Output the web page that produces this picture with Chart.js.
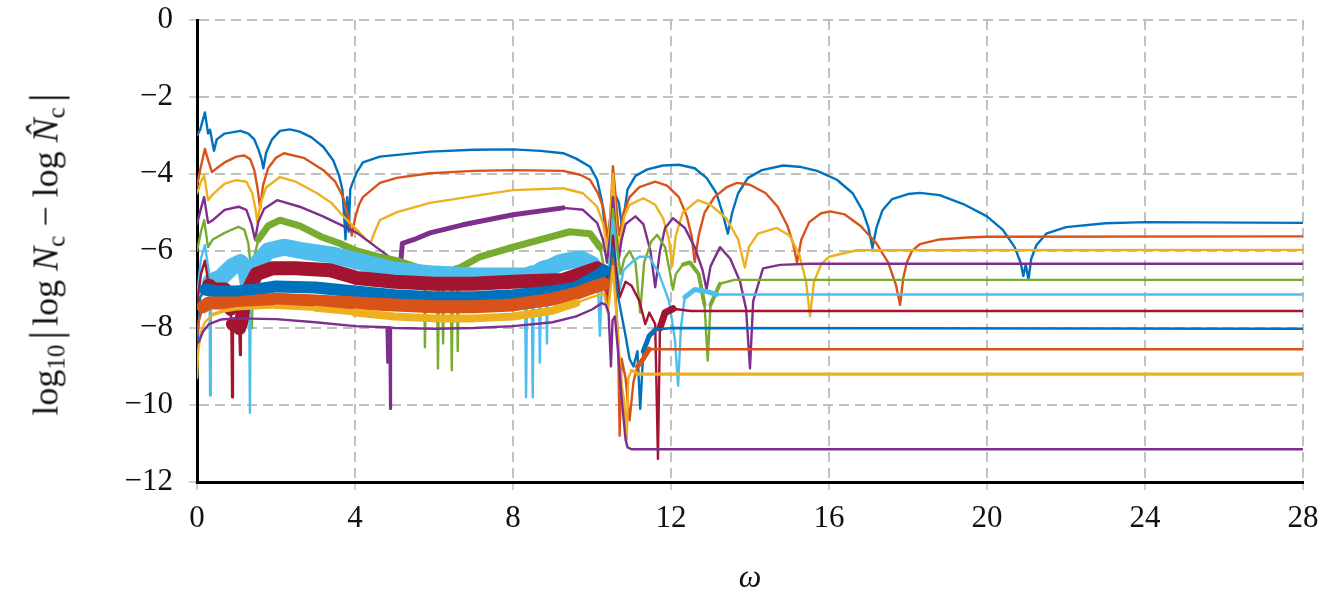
<!DOCTYPE html>
<html>
<head>
<meta charset="utf-8">
<script src="https://cdn.jsdelivr.net/npm/chart.js@4/dist/chart.umd.min.js"></script>
<style>
    body { margin: 0; background: #fff; }
    #wrap { position: relative; width: 1322px; height: 594px; }
    #chart { position: absolute; left: 0; top: 0; }
    .axisTitle {
        position: absolute;
        font-family: 'Liberation Serif', serif;
        font-size: 36px;
        color: #111;
        white-space: nowrap;
    }
    #yTitle { left: 46px; top: 252px; transform: translate(-50%, -50%) rotate(-90deg); }
    #xTitle { left: 750px; top: 576px; transform: translate(-50%, -50%); font-size: 32px; }
    .axisTitle sub { font-size: 25px; vertical-align: -7px; line-height: 0; }
    .bar { font-size: 44px; vertical-align: -3px; margin: 0 5px; }
    .op { margin: 0 9px; }
</style>
</head>
<body>
<div id="wrap">
    <canvas id="chart" width="1322" height="594"></canvas>
    <div id="yTitle" class="axisTitle">log<sub>10</sub><span class="bar">|</span>log <i>N</i><sub>c</sub><span class="op">&minus;</span>log <i>N&#x302;</i><sub>c</sub><span class="bar">|</span></div>
    <div id="xTitle" class="axisTitle"><i>&omega;</i></div>
</div>
<script>
        // omega values along x, log10 error along y ([omega, value] pairs)
        const blueA = [[0,-3.0],[0.08,-2.85],[0.2,-2.4],[0.28,-2.95],[0.33,-2.85],[0.43,-3.4],[0.5,-3.1],[0.7,-2.95],[1.1,-2.88],[1.3,-2.95],[1.45,-3.1],[1.55,-3.35],[1.63,-3.6],[1.68,-3.85],[1.75,-3.45],[1.9,-3.1],[2.1,-2.88],[2.35,-2.84],[2.6,-2.9],[2.9,-3.05],[3.2,-3.3],[3.45,-3.65],[3.6,-4.05],[3.68,-4.4],[3.72,-5.0],[3.76,-5.7],[3.8,-4.6],[3.84,-5.5],[3.88,-4.4],[3.95,-4.2],[4.05,-3.95],[4.2,-3.7],[4.63,-3.55],[5.9,-3.42],[7.0,-3.37],[8.0,-3.36],[8.7,-3.4],[9.27,-3.46],[9.6,-3.6],[9.95,-3.81],[10.13,-4.15],[10.25,-4.7],[10.32,-5.3],[10.4,-5.6],[10.48,-5.0],[10.55,-4.5],[10.62,-4.6],[10.68,-4.75],[10.75,-5.3],[10.82,-5.0],[10.9,-4.4],[11.1,-4.05],[11.4,-3.88],[11.8,-3.78],[12.2,-3.76],[12.6,-3.85],[12.9,-4.1],[13.15,-4.5],[13.3,-5.0],[13.44,-5.55],[13.55,-5.0],[13.7,-4.5],[13.95,-4.1],[14.3,-3.9],[14.84,-3.78],[15.3,-3.82],[15.7,-3.92],[16.2,-4.15],[16.6,-4.5],[16.85,-4.95],[17.0,-5.4],[17.1,-5.92],[17.2,-5.4],[17.35,-4.95],[17.6,-4.65],[18.0,-4.52],[18.3,-4.49],[18.8,-4.55],[19.4,-4.78],[20.0,-5.1],[20.4,-5.45],[20.7,-5.9],[20.85,-6.3],[20.92,-6.65],[20.98,-6.35],[21.05,-6.75],[21.12,-6.2],[21.25,-5.85],[21.5,-5.55],[22.0,-5.38],[23.0,-5.28],[24.0,-5.25],[28,-5.27]];
        const orangeA = [[0,-4.3],[0.1,-3.8],[0.2,-3.35],[0.3,-3.7],[0.38,-3.95],[0.5,-3.85],[0.7,-3.7],[1.0,-3.55],[1.2,-3.52],[1.35,-3.62],[1.45,-3.9],[1.53,-4.35],[1.6,-4.9],[1.67,-4.3],[1.8,-3.85],[2.0,-3.58],[2.2,-3.46],[2.7,-3.58],[3.2,-3.9],[3.5,-4.2],[3.7,-4.6],[3.85,-5.2],[3.92,-5.6],[4.0,-5.15],[4.1,-4.8],[4.2,-4.6],[4.63,-4.23],[5.06,-4.1],[5.9,-3.98],[7.0,-3.92],[8.0,-3.9],[9.27,-3.92],[9.7,-4.02],[9.95,-4.15],[10.15,-4.5],[10.28,-4.85],[10.35,-5.3],[10.42,-5.9],[10.48,-4.8],[10.53,-3.8],[10.6,-4.6],[10.68,-5.6],[10.75,-5.3],[10.8,-5.0],[10.95,-4.6],[11.2,-4.34],[11.6,-4.2],[11.9,-4.3],[12.2,-4.6],[12.4,-5.1],[12.52,-5.6],[12.6,-6.29],[12.7,-5.6],[12.85,-5.0],[13.1,-4.6],[13.4,-4.35],[13.67,-4.23],[14.0,-4.28],[14.4,-4.5],[14.7,-4.85],[14.95,-5.35],[15.1,-5.85],[15.19,-6.3],[15.3,-5.7],[15.5,-5.25],[15.8,-5.02],[16.03,-4.97],[16.4,-5.05],[16.8,-5.35],[17.2,-5.8],[17.5,-6.3],[17.7,-6.9],[17.8,-7.4],[17.88,-6.7],[17.97,-6.3],[18.1,-6.0],[18.3,-5.82],[18.8,-5.7],[19.5,-5.65],[20.0,-5.63],[28,-5.62]];
        const yellowA = [[0,-4.5],[0.1,-4.2],[0.18,-4.03],[0.28,-4.68],[0.38,-4.55],[0.7,-4.25],[1.0,-4.16],[1.25,-4.2],[1.4,-4.5],[1.48,-4.9],[1.53,-5.27],[1.6,-4.8],[1.75,-4.35],[2.1,-4.08],[2.5,-4.2],[3.04,-4.5],[3.4,-4.75],[3.8,-5.2],[4.1,-5.5],[4.3,-5.72],[4.4,-5.78],[4.5,-5.5],[4.63,-5.2],[5.06,-4.99],[5.9,-4.75],[7.16,-4.55],[8.0,-4.42],[9.27,-4.37],[9.77,-4.5],[10.13,-4.85],[10.28,-5.28],[10.4,-6.0],[10.47,-5.0],[10.53,-4.0],[10.6,-5.2],[10.68,-6.0],[10.75,-5.5],[10.82,-5.1],[10.95,-4.8],[11.3,-4.63],[11.6,-4.8],[11.8,-5.15],[11.95,-5.7],[12.03,-6.4],[12.12,-5.6],[12.3,-5.0],[12.68,-4.68],[13.0,-4.8],[13.4,-5.15],[13.7,-5.7],[13.87,-6.43],[13.97,-5.9],[14.2,-5.55],[14.68,-5.4],[15.0,-5.6],[15.25,-6.1],[15.42,-6.8],[15.52,-7.7],[15.62,-6.8],[15.8,-6.35],[16.0,-6.15],[16.7,-5.98],[28,-5.97]];
        const purpleA = [[0,-5.3],[0.1,-4.9],[0.18,-4.6],[0.28,-5.27],[0.4,-5.2],[0.7,-4.93],[1.05,-4.85],[1.25,-4.93],[1.38,-5.3],[1.47,-5.71],[1.55,-5.25],[1.7,-4.9],[2.03,-4.68],[2.6,-4.85],[3.19,-5.1],[3.6,-5.3],[4.05,-5.53],[4.63,-5.97],[5.06,-6.3],[5.15,-6.4],[5.2,-5.8],[5.5,-5.7],[5.9,-5.53],[6.73,-5.32],[8.0,-5.06],[9.27,-4.88],[9.77,-4.93],[10.13,-5.27],[10.28,-5.71],[10.38,-6.3],[10.47,-5.5],[10.53,-4.6],[10.6,-5.5],[10.68,-6.2],[10.75,-5.7],[10.85,-5.3],[11.1,-5.1],[11.3,-5.3],[11.48,-6.0],[11.6,-6.94],[11.72,-6.0],[11.85,-5.4],[12.05,-5.15],[12.35,-5.4],[12.6,-5.9],[12.8,-6.5],[12.9,-7.0],[13.0,-6.4],[13.24,-5.9],[13.5,-6.2],[13.75,-6.8],[13.9,-7.5],[14.0,-9.05],[14.08,-7.3],[14.33,-6.45],[14.76,-6.36],[15.5,-6.33],[28,-6.33]];
        const green = [[0,-6.0],[0.1,-5.5],[0.18,-5.2],[0.28,-5.9],[0.4,-5.7],[0.7,-5.53],[1.05,-5.37],[1.2,-5.45],[1.3,-5.8],[1.36,-6.4],[1.39,-8.0],[1.42,-6.3],[1.55,-5.7],[1.8,-5.35],[2.1,-5.2],[2.6,-5.35],[3.19,-5.65],[3.6,-5.8],[4.05,-6.0],[4.6,-6.15],[5.06,-6.25],[5.5,-6.4],[5.75,-6.48],[5.77,-8.5],[5.8,-6.48],[6.07,-6.5],[6.1,-9.05],[6.13,-6.5],[6.2,-6.5],[6.23,-8.4],[6.26,-6.5],[6.42,-6.5],[6.45,-9.1],[6.48,-6.5],[6.58,-6.45],[6.6,-8.6],[6.63,-6.45],[7.16,-6.15],[8.0,-5.9],[8.86,-5.66],[9.44,-5.5],[9.95,-5.55],[10.2,-5.9],[10.3,-6.4],[10.4,-6.9],[10.47,-6.0],[10.53,-4.9],[10.62,-5.8],[10.72,-6.6],[10.82,-6.2],[10.95,-6.0],[11.1,-6.3],[11.22,-7.6],[11.32,-6.3],[11.5,-5.75],[11.65,-5.58],[11.85,-5.9],[11.98,-6.6],[12.05,-7.0],[12.12,-6.6],[12.3,-6.35],[12.48,-6.3],[12.7,-6.6],[12.85,-7.4],[12.93,-8.85],[13.0,-7.4],[13.24,-6.85],[13.6,-6.75],[28,-6.75]];
        const lightBlue = [[0,-7.2],[0.1,-6.2],[0.2,-5.85],[0.28,-6.4],[0.32,-6.7],[0.33,-9.75],[0.35,-6.8],[0.6,-6.7],[0.9,-6.4],[1.1,-6.3],[1.25,-6.55],[1.32,-7.0],[1.34,-10.2],[1.36,-7.0],[1.5,-6.35],[1.8,-6.0],[2.2,-5.9],[2.7,-6.0],[3.4,-6.1],[4.2,-6.3],[5.0,-6.5],[6.0,-6.6],[7.0,-6.65],[8.0,-6.65],[8.3,-6.65],[8.33,-9.8],[8.36,-6.65],[8.47,-6.6],[8.5,-9.8],[8.53,-6.6],[8.65,-6.55],[8.68,-8.9],[8.71,-6.5],[8.83,-6.45],[8.86,-8.4],[8.89,-6.45],[9.2,-6.3],[9.7,-6.2],[10.0,-6.35],[10.15,-6.8],[10.2,-8.2],[10.25,-6.8],[10.35,-6.9],[10.45,-6.3],[10.53,-5.2],[10.6,-6.2],[10.7,-7.0],[10.8,-6.5],[11.0,-6.3],[11.2,-6.15],[11.45,-6.15],[11.7,-6.6],[11.95,-7.3],[12.1,-8.3],[12.18,-9.5],[12.25,-8.0],[12.35,-7.2],[12.6,-7.0],[12.9,-7.05],[13.15,-7.13],[28,-7.13]];
        const darkRed = [[0,-7.4],[0.1,-6.6],[0.2,-6.25],[0.3,-6.9],[0.45,-7.0],[0.7,-7.0],[0.85,-7.5],[0.87,-7.9],[0.89,-9.8],[0.91,-7.9],[1.0,-7.9],[1.07,-8.0],[1.09,-8.7],[1.11,-7.9],[1.2,-7.3],[1.35,-6.9],[1.5,-6.6],[1.9,-6.45],[2.5,-6.45],[3.37,-6.5],[4.05,-6.7],[5.0,-6.8],[6.0,-6.85],[7.0,-6.85],[8.0,-6.8],[9.27,-6.75],[10.13,-6.45],[10.3,-6.7],[10.4,-7.3],[10.47,-6.6],[10.53,-5.6],[10.6,-6.4],[10.7,-7.2],[10.85,-6.8],[11.0,-6.9],[11.2,-7.3],[11.35,-7.9],[11.45,-7.6],[11.6,-7.9],[11.67,-11.4],[11.72,-8.0],[11.85,-7.6],[12.05,-7.5],[12.5,-7.56],[28,-7.56]];
        const blueB = [[0,-9.3],[0.03,-8.0],[0.08,-7.2],[0.2,-7.0],[0.5,-7.05],[1.0,-7.05],[1.5,-7.0],[2.0,-6.92],[3.0,-6.95],[4.0,-7.05],[5.0,-7.15],[6.0,-7.2],[7.0,-7.2],[8.0,-7.15],[9.0,-7.05],[9.6,-6.95],[10.2,-6.6],[10.3,-6.5],[10.4,-7.0],[10.47,-6.4],[10.53,-5.9],[10.6,-6.8],[10.7,-7.4],[10.85,-8.2],[10.95,-8.8],[11.05,-9.0],[11.15,-8.6],[11.22,-10.1],[11.3,-8.6],[11.45,-8.2],[11.6,-8.05],[12.0,-8.0],[28,-8.02]];
        const orangeB = [[0,-8.2],[0.05,-7.8],[0.15,-7.45],[0.3,-7.35],[1.0,-7.35],[2.0,-7.25],[3.0,-7.3],[4.0,-7.35],[5.0,-7.4],[6.0,-7.45],[7.0,-7.45],[8.0,-7.4],[9.0,-7.25],[9.6,-7.1],[10.0,-6.95],[10.3,-6.85],[10.4,-7.4],[10.47,-6.8],[10.53,-6.2],[10.6,-7.2],[10.66,-8.3],[10.7,-10.8],[10.75,-8.8],[10.85,-9.3],[10.95,-10.4],[11.05,-9.4],[11.15,-9.0],[11.3,-8.8],[11.45,-8.55],[28,-8.55]];
        const yellowB = [[0,-9.3],[0.03,-8.6],[0.1,-8.1],[0.2,-7.85],[0.4,-7.65],[0.7,-7.55],[1.0,-7.5],[2.0,-7.45],[3.0,-7.5],[4.0,-7.6],[5.0,-7.7],[6.0,-7.75],[7.0,-7.75],[8.0,-7.7],[9.0,-7.55],[9.6,-7.35],[10.0,-7.2],[10.3,-7.1],[10.4,-7.6],[10.47,-7.0],[10.53,-6.4],[10.6,-7.4],[10.68,-8.5],[10.75,-9.5],[10.82,-9.9],[10.88,-10.9],[10.92,-9.3],[11.0,-9.1],[11.2,-9.2],[28,-9.2]];
        const purpleB = [[0,-8.4],[0.05,-8.35],[0.15,-8.1],[0.3,-7.9],[0.6,-7.78],[1.0,-7.75],[2.0,-7.77],[3.0,-7.85],[4.0,-7.95],[4.8,-7.98],[4.82,-8.9],[4.84,-7.98],[4.87,-7.98],[4.89,-10.1],[4.91,-7.99],[5.0,-8.0],[6.0,-8.02],[7.0,-8.0],[8.0,-7.95],[9.0,-7.85],[9.6,-7.7],[10.0,-7.52],[10.25,-7.35],[10.35,-7.4],[10.42,-7.6],[10.48,-9.0],[10.52,-7.8],[10.58,-7.7],[10.65,-8.5],[10.75,-9.8],[10.85,-10.9],[10.9,-11.1],[11.0,-11.15],[28,-11.15]];

        const xTicks = [0, 4, 8, 12, 16, 20, 24, 28];
        const yTicks = [0, -2, -4, -6, -8, -10, -12];

        // line colours (default MATLAB order) and the omega ranges where a run is noisy
        const series = [
            { data: blueA,     color: '#0072BD', bands: [] },
            { data: orangeA,   color: '#D95319', bands: [] },
            { data: yellowA,   color: '#EDB120', bands: [] },
            { data: purpleA,   color: '#7E2F8E', bands: [[5.15, 9.6, 5]] },
            { data: green,     color: '#77AC30', bands: [[1.45, 10.2, 7], [12.2, 13.5, 4]] },
            { data: lightBlue, color: '#4DBEEE', bands: [[0.35, 10.2, 17], [12.3, 13.2, 5]] },
            { data: darkRed,   color: '#A2142F', bands: [[0.3, 10.3, 14], [11.7, 12.4, 7]] },
            { data: blueB,     color: '#0072BD', bands: [[0.1, 10.3, 12], [11.3, 11.9, 5]] },
            { data: orangeB,   color: '#D95319', bands: [[0.1, 10.3, 13], [11.1, 11.5, 5]] },
            { data: yellowB,   color: '#EDB120', bands: [[0.4, 2.0, 3.5], [2.0, 3.0, 4.5], [3.0, 4.0, 6], [4.0, 9.8, 8], [11.0, 28, 3.2]] },
            { data: purpleB,   color: '#7E2F8E', bands: [] }
        ];

        const lineWidth = 2.4;

        // noisy stretches get a wide stroke, steep drops stay thin
        function segmentWidth(bands) {
            return ctx => {
                const a = ctx.p0.parsed, b = ctx.p1.parsed;
                const slope = Math.abs((b.y - a.y) / (b.x - a.x));
                if (slope > 15) return lineWidth;
                for (const [from, to, w] of bands) {
                    if (a.x >= from && b.x <= to) return w;
                }
                return lineWidth;
            };
        }

        const datasets = series.map((s, i) => ({
            data: s.data.map(p => ({ x: p[0], y: p[1] })),
            borderColor: s.color,
            borderWidth: lineWidth,
            pointRadius: 0,
            tension: 0,
            borderJoinStyle: 'round',
            borderCapStyle: 'round',
            order: -i,
            segment: { borderWidth: segmentWidth(s.bands) }
        }));

        const tickFont = { family: 'Liberation Serif', size: 31 };
        const gridGray = '#c0c0c0';

        const ctx = document.getElementById('chart').getContext('2d');
        new Chart(ctx, {
            type: 'line',
            data: { datasets },
            options: {
                responsive: false,
                animation: false,
                events: [],
                layout: { padding: { left: 0, right: 19, top: 20, bottom: 0 } },
                plugins: { legend: { display: false }, tooltip: { enabled: false } },
                scales: {
                    x: {
                        type: 'linear',
                        min: 0,
                        max: 28,
                        afterBuildTicks: scale => { scale.ticks = xTicks.map(v => ({ value: v })); },
                        afterFit: scale => {
                            scale.height = 112;
                            scale.paddingLeft = 0;
                            scale.paddingRight = 0;
                        },
                        ticks: { font: tickFont, color: '#111', padding: 10, maxRotation: 0 },
                        grid: { color: gridGray, lineWidth: 2, tickLength: 8, tickColor: gridGray, tickWidth: 1.5 },
                        border: { color: '#000', width: 3, dash: [10, 6] }
                    },
                    y: {
                        type: 'linear',
                        min: -12,
                        max: 0,
                        afterBuildTicks: scale => { scale.ticks = yTicks.map(v => ({ value: v })); },
                        afterFit: scale => {
                            scale.width = 197;
                            scale.paddingTop = 0;
                            scale.paddingBottom = 0;
                        },
                        ticks: {
                            font: tickFont,
                            color: '#111',
                            padding: 16,
                            callback: v => v < 0 ? '\u2212' + (-v) : String(v)
                        },
                        grid: { color: gridGray, lineWidth: 2, tickLength: 8, tickColor: gridGray, tickWidth: 1.5 },
                        border: { color: '#000', width: 3, dash: [10, 6] }
                    }
                }
            }
        });
</script>
</body>
</html>
